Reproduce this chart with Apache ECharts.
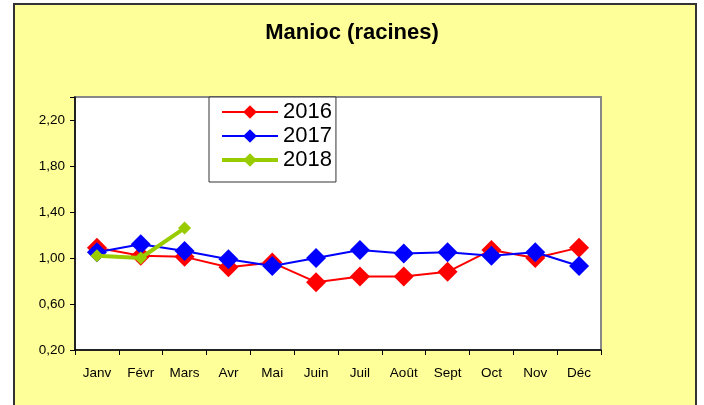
<!DOCTYPE html>
<html>
<head>
<meta charset="utf-8">
<script src="https://cdn.jsdelivr.net/npm/echarts@6/dist/echarts.min.js"></script>
<style>
  html, body { margin: 0; padding: 0; background: #fff; }
  #frame {
    position: absolute; left: 13px; top: 3px; width: 680px; height: 420px;
    border: 2px solid #333; background: #ffff99;
  }
  #chart { position: absolute; left: 0; top: 0; width: 704px; height: 405px; }
</style>
</head>
<body>
<div id="frame"></div>
<div id="chart"></div>
<script>
const MONTHS = ["Janv", "Févr", "Mars", "Avr", "Mai", "Juin", "Juil", "Août", "Sept", "Oct", "Nov", "Déc"];
const Y2016 = [1.09, 1.02, 1.01, 0.92, 0.96, 0.79, 0.84, 0.84, 0.88, 1.07, 1.00, 1.09];
const Y2017 = [1.05, 1.12, 1.06, 0.99, 0.93, 1.00, 1.07, 1.04, 1.05, 1.02, 1.05, 0.93];
const Y2018 = [1.02, 1.00, 1.26];

const chart = echarts.init(document.getElementById("chart"), null, { renderer: "canvas" });

const FONT = "'Liberation Sans', Arial, sans-serif";

chart.setOption({
  backgroundColor: "transparent",
  animation: false,
  textStyle: { fontFamily: FONT },
  title: {
    text: "Manioc (racines)",
    left: "center",
    top: 17,
    textStyle: { fontFamily: FONT, fontSize: 22, fontWeight: "bold", color: "#000" },
  },
  legend: {
    orient: "vertical",
    left: 209,
    top: 97,
    padding: [4, 4, 11, 11],
    itemGap: 2,
    itemWidth: 56,
    itemHeight: 17,
    borderColor: "#333",
    borderWidth: 1,
    backgroundColor: "#fff",
    textStyle: { fontFamily: FONT, fontSize: 22, color: "#000" },
    data: [
      { name: "2016", lineStyle: { width: 2 } },
      { name: "2017", lineStyle: { width: 2 } },
      { name: "2018", lineStyle: { width: 4 } },
    ],
  },
  grid: {
    left: 75,
    right: 103,
    top: 97,
    bottom: 55,
    show: true,
    backgroundColor: "#fff",
    borderColor: "#888",
    borderWidth: 2,
  },
  xAxis: {
    type: "category",
    data: MONTHS,
    boundaryGap: true,
    axisLine: { lineStyle: { color: "#000", width: 1.5 } },
    axisTick: { show: true, length: 5, lineStyle: { color: "#000" } },
    axisLabel: { color: "#000", fontSize: 13.5, margin: 16, fontFamily: FONT },
  },
  yAxis: {
    type: "value",
    min: 0.2,
    max: 2.4,
    interval: 0.4,
    axisLine: { show: true, lineStyle: { color: "#000", width: 1.5 } },
    axisTick: { show: true, length: 5, lineStyle: { color: "#000" } },
    splitLine: { show: false },
    axisLabel: {
      color: "#000",
      fontSize: 13.5,
      margin: 10,
      fontFamily: FONT,
      formatter: (v) => (v > 2.3 ? "" : v.toFixed(2).replace(".", ",")),
    },
  },
  series: [
    {
      name: "2016",
      type: "line",
      data: Y2016,
      color: "#ff0000",
      symbol: "diamond",
      symbolSize: 20,
      lineStyle: { width: 2, color: "#ff0000" },
      itemStyle: { color: "#ff0000" },
      z: 2,
    },
    {
      name: "2017",
      type: "line",
      data: Y2017,
      color: "#0000ff",
      symbol: "diamond",
      symbolSize: 20,
      lineStyle: { width: 2, color: "#0000ff" },
      itemStyle: { color: "#0000ff" },
      z: 3,
    },
    {
      name: "2018",
      type: "line",
      data: Y2018,
      color: "#99cc00",
      symbol: "diamond",
      symbolSize: 13,
      lineStyle: { width: 4, color: "#99cc00" },
      itemStyle: { color: "#99cc00" },
      z: 4,
    },
  ],
});
</script>
</body>
</html>
